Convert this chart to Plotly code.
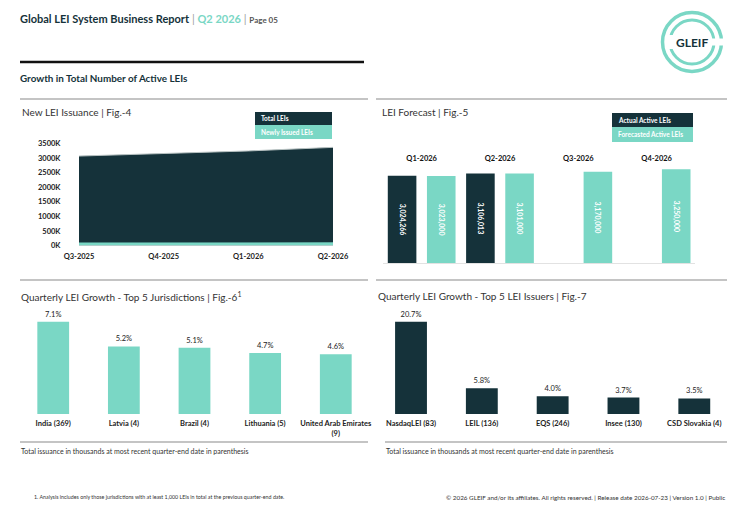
import plotly.graph_objects as go

# window is 750x506; the page body adds an 8px margin, so the figure is
# drawn 8px smaller and all layout positions are given in window pixels
OFF = 8
W, H = 750 - OFF, 506 - OFF

# ── colours ──────────────────────────────────────────────
C_DARK = '#15323A'
C_TEAL = '#7AD7C5'
C_TEXT = '#222222'
C_LINE = '#8A8A8A'
FONT = 'Lato, Carlito, sans-serif'

# ── data ────────────────────────────────────────────────
# Fig-4 : new LEI issuance (thousands)
f4_quarters = ['Q3-2025', 'Q4-2025', 'Q1-2026', 'Q2-2026']
f4_total_k = [3065, 3150, 3240, 3363]
f4_new_k = [95, 98, 115, 102]
f4_ticks = [0, 500, 1000, 1500, 2000, 2500, 3000, 3500]
f4_ticktext = ['0K', '500K', '1000K', '1500K', '2000K', '2500K', '3000K', '3500K']

# Fig-5 : forecast
f5_quarters = ['Q1-2026', 'Q2-2026', 'Q3-2026', 'Q4-2026']
f5_actual = [3024266, 3106013, None, None]
f5_forecast = [3023000, 3101000, 3170000, 3250000]

# Fig-6 : top 5 jurisdictions (% growth)
f6_names = ['India (369)', 'Latvia (4)', 'Brazil (4)', 'Lithuania (5)',
            'United Arab Emirates<br>(9)']
f6_growth = [7.1, 5.2, 5.1, 4.7, 4.6]

# Fig-7 : top 5 LEI issuers (% growth)
f7_names = ['NasdaqLEI (83)', 'LEIL (136)', 'EQS (246)', 'Insee (130)',
            'CSD Slovakia (4)']
f7_growth = [20.7, 5.8, 4.0, 3.7, 3.5]


def px(x):
    return (x - OFF) / W


def py(y):
    return 1 - (y - OFF) / H


def dx(a, b):
    return [px(a), px(b)]


def dy(top, bottom):
    return [py(bottom), py(top)]


fig = go.Figure()

# Fig-4 areas
fig.add_trace(go.Scatter(
    x=f4_quarters, y=f4_total_k, mode='lines', fill='tozeroy',
    line=dict(color='#B8C2C2', width=1), fillcolor=C_DARK,
    xaxis='x', yaxis='y', showlegend=False, name='Total LEIs'))
fig.add_trace(go.Scatter(
    x=f4_quarters, y=f4_new_k, mode='lines', fill='tozeroy',
    line=dict(color=C_TEAL, width=0.5), fillcolor=C_TEAL,
    xaxis='x', yaxis='y', showlegend=False, name='Newly Issued LEIs'))

# Fig-5 bars (quarters without actuals are simply left out of the trace)
act_q = [q for q, v in zip(f5_quarters, f5_actual) if v is not None]
act_v = [v for v in f5_actual if v is not None]
bar_txt = dict(family=FONT, size=7, color='white', weight=700)
fig.add_trace(go.Bar(
    x=act_q, y=act_v, marker_color=C_DARK,
    texttemplate='%{y:,}', textposition='inside', insidetextanchor='middle',
    textangle=90, textfont=bar_txt,
    xaxis='x2', yaxis='y2', showlegend=False, name='Actual Active LEIs'))
fig.add_trace(go.Bar(
    x=f5_quarters, y=f5_forecast, marker_color=C_TEAL,
    texttemplate='%{y:,}', textposition='inside', insidetextanchor='middle',
    textangle=90, textfont=bar_txt,
    xaxis='x2', yaxis='y2', showlegend=False, name='Forecasted Active LEIs'))

# Fig-6 / Fig-7 bars
val_font = dict(family=FONT, size=7.5, color=C_TEXT)
fig.add_trace(go.Bar(
    x=f6_names, y=f6_growth, width=0.45, marker_color=C_TEAL,
    texttemplate='%{y:.1f}%', textposition='outside', textfont=val_font,
    cliponaxis=False, xaxis='x3', yaxis='y3', showlegend=False))
fig.add_trace(go.Bar(
    x=f7_names, y=f7_growth, width=0.45, marker_color=C_DARK,
    texttemplate='%{y:.1f}%', textposition='outside', textfont=val_font,
    cliponaxis=False, xaxis='x4', yaxis='y4', showlegend=False))

tick_font = dict(family=FONT, size=7.5, color=C_TEXT, weight=700)
hidden_y = dict(showgrid=False, zeroline=False, showticklabels=False,
                showline=False, automargin=False)

# ── shapes ───────────────────────────────────────────────
shapes = []


def hline(x0, x1, y, color, width):
    shapes.append(dict(type='line', xref='paper', yref='paper',
                       x0=px(x0), x1=px(x1), y0=py(y), y1=py(y),
                       line=dict(color=color, width=width)))


def box(x0, x1, y0, y1, color):
    shapes.append(dict(type='rect', xref='paper', yref='paper',
                       x0=px(x0), x1=px(x1), y0=py(y1), y1=py(y0),
                       fillcolor=color, line=dict(width=0), layer='above'))


def ring(cx, cy, r, width):
    shapes.append(dict(type='circle', xref='paper', yref='paper',
                       x0=px(cx - r), x1=px(cx + r), y0=py(cy + r), y1=py(cy - r),
                       line=dict(color=C_TEAL, width=width), layer='above'))


hline(20, 364, 62, '#111111', 2.5)
hline(20, 368, 99, C_LINE, 1.2)
hline(376, 727, 99, C_LINE, 1.2)
hline(20, 368, 280, C_LINE, 1.2)
hline(376, 727, 280, C_LINE, 1.2)
hline(20, 368, 442, C_LINE, 1.2)
hline(385, 727, 442, C_LINE, 1.2)
hline(383, 695, 263.5, '#E2E2E2', 1)   # faint baseline under forecast bars

# legend boxes
box(255, 332, 112, 125, C_DARK)
box(255, 332, 125, 139, C_TEAL)
box(612, 693, 113, 127, C_DARK)
box(612, 693, 127, 142, C_TEAL)

# logo
LX, LY = 692, 42
ring(LX, LY, 29.5, 3.5)
ring(LX, LY, 22, 3)
box(LX + 15, LX + 36, LY - 3.5, LY + 3.5, 'white')
box(LX - 26, LX - 17, LY - 7, LY + 7, 'white')

# ── annotations ─────────────────────────────────────────
ann = []


def label(x, y, text, size, color=C_TEXT, anchor='left', bold=False):
    ann.append(dict(xref='paper', yref='paper', x=px(x), y=py(y), text=text,
                    showarrow=False, xanchor=anchor, yanchor='middle',
                    font=dict(family=FONT, size=size, color=color,
                              weight=700 if bold else 400)))


label(18, 18,
      "<b>Global LEI System Business Report</b> <span style='color:#A0A0A0'>|</span> "
      "<b><span style='color:#7AD7C5'>Q2 2026</span></b> <span style='color:#A0A0A0'>|</span> "
      "<span style='font-size:8px;color:#555555'><b>Page 05</b></span>",
      11, C_DARK)
label(18, 78, 'Growth in Total Number of Active LEIs', 9.9, C_DARK, bold=True)
label(20, 112, 'New LEI Issuance | Fig.-4', 10, '#333333')
label(380, 112, 'LEI Forecast | Fig.-5', 10, '#333333')
label(19, 296, 'Quarterly LEI Growth - Top 5 Jurisdictions | Fig.-6<sup>1</sup>', 10, '#333333')
label(376, 296, 'Quarterly LEI Growth - Top 5 LEI Issuers | Fig.-7', 10, '#333333')
label(259, 118.5, 'Total LEIs', 6.5, 'white', bold=True)
label(259, 132, 'Newly Issued LEIs', 6.5, 'white', bold=True)
label(616, 120, 'Actual Active LEIs', 6.5, 'white', bold=True)
label(616, 134.5, 'Forecasted Active LEIs', 6.5, 'white', bold=True)
label(19, 451, 'Total issuance in thousands at most recent quarter-end date in parenthesis', 7, '#333333')
label(384, 451, 'Total issuance in thousands at most recent quarter-end date in parenthesis', 7, '#333333')
label(32, 497, '1. Analysis includes only those jurisdictions with at least 1,000 LEIs in total '
      'at the previous quarter-end date.', 5.3, '#333333')
label(727, 497, '© 2026 GLEIF and/or its affiliates. All rights reserved. | Release date 2026-07-23 '
      '| Version 1.0 | Public', 6.3, '#333333', anchor='right')
label(LX, LY + 1, 'GLEIF', 12, C_DARK, anchor='center', bold=True)

fig.update_layout(
    template='none',
    width=W, height=H, autosize=False,
    margin=dict(l=0, r=0, t=0, b=0, pad=0),
    paper_bgcolor='white', plot_bgcolor='white',
    font=dict(family=FONT, color=C_TEXT),
    barmode='group', bargap=0, bargroupgap=0.27,
    shapes=shapes, annotations=ann,
    xaxis=dict(domain=dx(79, 333), type='category', range=[0, 3],
               showgrid=False, zeroline=False, showline=False, automargin=False,
               ticks='outside', ticklen=3, tickcolor='rgba(0,0,0,0)',
               tickfont=tick_font, anchor='y'),
    yaxis=dict(domain=dy(137.5, 245.6), range=[0, 3700],
               tickvals=f4_ticks, ticktext=f4_ticktext, showgrid=False,
               zeroline=False, showline=False, automargin=False,
               ticks='outside', ticklen=16, tickcolor='rgba(0,0,0,0)',
               tickfont=tick_font, anchor='x'),
    xaxis2=dict(domain=dx(382.5, 695.8), type='category', side='top',
                categoryorder='array', categoryarray=f5_quarters,
                showgrid=False, zeroline=False, showline=False, automargin=False,
                ticks='outside', ticklen=2, tickcolor='rgba(0,0,0,0)',
                tickfont=dict(family=FONT, size=7.5, color='#111111', weight=700),
                anchor='y2'),
    yaxis2=dict(domain=dy(167, 263.3), range=[0, 3330000], anchor='x2', **hidden_y),
    xaxis3=dict(domain=dx(17.9, 371.1), type='category', showgrid=False,
                zeroline=False, showline=False, automargin=False,
                ticks='outside', ticklen=2,
                tickcolor='rgba(0,0,0,0)', tickfont=tick_font, anchor='y3'),
    yaxis3=dict(domain=dy(303.5, 414), range=[0, 8.5], anchor='x3', **hidden_y),
    xaxis4=dict(domain=dx(375.6, 729.7), type='category', showgrid=False,
                zeroline=False, showline=False, automargin=False,
                ticks='outside', ticklen=2,
                tickcolor='rgba(0,0,0,0)', tickfont=tick_font, anchor='y4'),
    yaxis4=dict(domain=dy(303.5, 414), range=[0, 24.78], anchor='x4', **hidden_y),
)

fig.write_html('out.html')
